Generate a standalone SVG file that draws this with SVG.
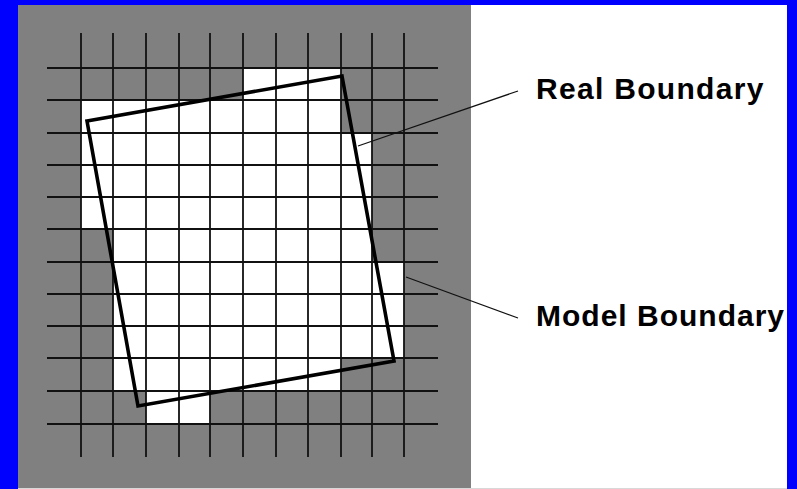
<svg xmlns="http://www.w3.org/2000/svg" width="797" height="489" viewBox="0 0 797 489">
<style>
.grid line{stroke:#111;stroke-width:1.8}
.lead{stroke:#111;stroke-width:1.2;fill:none}
.lbl{font-family:"Liberation Sans",Arial,sans-serif;font-weight:bold;font-size:30px;letter-spacing:1.3px;fill:#000}
#label-model .lbl{letter-spacing:1px}
</style>
<rect x="0" y="0" width="797" height="489" fill="#0000ff"/>
<rect x="18" y="5" width="453" height="484" fill="#808080"/>
<rect x="471" y="5" width="316" height="484" fill="#ffffff"/>
<rect x="18" y="488" width="769" height="1" fill="#d8d8d8"/>
<g id="model-region">
<polygon points="243,68 341,68 341,133 372,133 372,262 404,262 404,358 341,358 341,391 210,391 210,424 146,424 146,391 113,391 113,229 81,229 81,100 243,100" fill="#ffffff"/>
</g>
<g id="grid" class="grid">
<line x1="81" y1="33" x2="81" y2="457"/>
<line x1="113" y1="33" x2="113" y2="457"/>
<line x1="146" y1="33" x2="146" y2="457"/>
<line x1="179" y1="33" x2="179" y2="457"/>
<line x1="210" y1="33" x2="210" y2="457"/>
<line x1="243" y1="33" x2="243" y2="457"/>
<line x1="276" y1="33" x2="276" y2="457"/>
<line x1="308" y1="33" x2="308" y2="457"/>
<line x1="341" y1="33" x2="341" y2="457"/>
<line x1="372" y1="33" x2="372" y2="457"/>
<line x1="404" y1="33" x2="404" y2="457"/>
<line x1="47" y1="68" x2="438" y2="68"/>
<line x1="47" y1="100" x2="438" y2="100"/>
<line x1="47" y1="133" x2="438" y2="133"/>
<line x1="47" y1="165" x2="438" y2="165"/>
<line x1="47" y1="197" x2="438" y2="197"/>
<line x1="47" y1="229" x2="438" y2="229"/>
<line x1="47" y1="262" x2="438" y2="262"/>
<line x1="47" y1="294" x2="438" y2="294"/>
<line x1="47" y1="326" x2="438" y2="326"/>
<line x1="47" y1="358" x2="438" y2="358"/>
<line x1="47" y1="391" x2="438" y2="391"/>
<line x1="47" y1="424" x2="438" y2="424"/>
</g>
<g id="real-boundary">
<polygon points="87,121 342,76 394,361 138,406" fill="none" stroke="#000" stroke-width="3.6" stroke-linejoin="miter"/>
</g>
<g id="connectors">
<line class="lead" x1="358" y1="146" x2="518" y2="91"/>
<line class="lead" x1="406" y1="277" x2="518" y2="318"/>
</g>
<g id="label-real">
<text class="lbl" x="536" y="99">Real Boundary</text>
</g>
<g id="label-model">
<text class="lbl" x="536" y="326">Model Boundary</text>
</g>
</svg>
